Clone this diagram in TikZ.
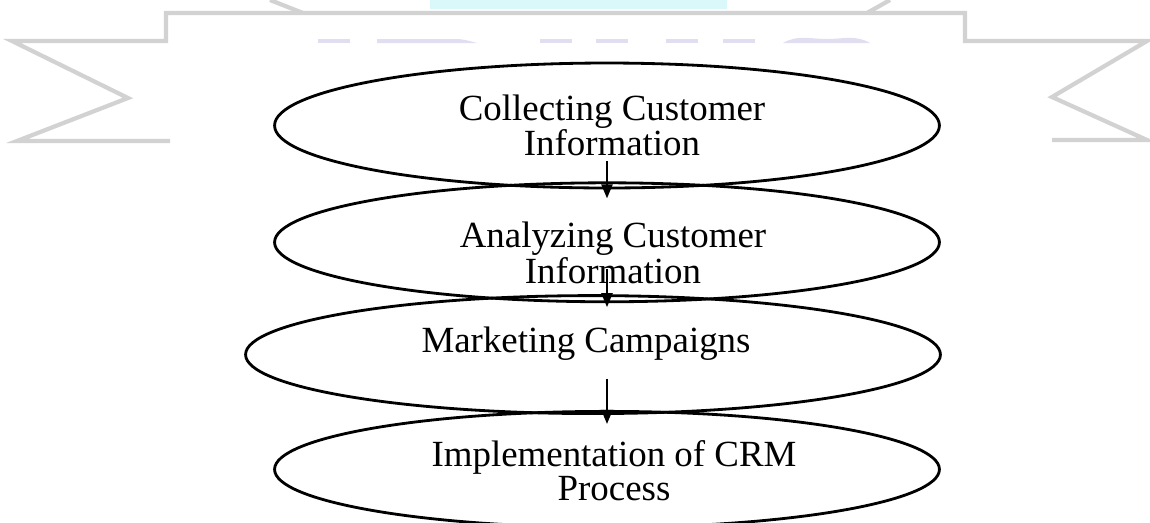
\documentclass[tikz,border=0pt]{standalone}
\usepackage{fontspec}
\setmainfont{Liberation Serif}
\usetikzlibrary{shapes.geometric,arrows.meta,positioning}

\definecolor{ribbongray}{HTML}{D2D2D2}
\definecolor{markblue}{HTML}{DAF7FA}
\definecolor{marklilac}{HTML}{E2DEF2}

\begin{document}
\begin{tikzpicture}[
    x=0.02cm, y=-0.02cm,
    >={Triangle[length=0.28cm,width=0.22cm]},
    stage/.style={ellipse, draw=black, line width=1.6pt, minimum width=13.3cm, inner sep=0pt},
    caption/.style={align=center, font=\fontsize{21}{17.8}\selectfont},
    flow/.style={->, line width=1.3pt},
    ribbon/.style={draw=ribbongray, line width=2.4pt}
]
\useasboundingbox (0,0) rectangle (1150,522);

% faint banner in the background
\fill[markblue] (430,0) rectangle (727,9);
\foreach \a/\b in {318/350,540/572,596/628,666/698,723/755}
    \fill[marklilac] (\a,39) rectangle (\b,43);
\fill[marklilac] (377,39) -- (455,39) to[out=0,in=165] (477,43) -- (377,43) -- cycle;
\fill[marklilac] (783,43) to[out=30,in=180] (827,39) to[out=0,in=150] (870,43) -- cycle;
\draw[ribbon] (170,141) -- (17,141) -- (128,98) -- (12,41) -- (166,41) -- (166,13)
    -- (965,13) -- (965,41) -- (1147,41) -- (1052,97) -- (1147,140) -- (1052,140);
\draw[ribbon] (303,13) -- (270,0);
\draw[ribbon] (867,13) -- (890,0);

% Stages
\node[stage, minimum height=2.5cm] (collect) at (607,125.5) {};
\node[stage, minimum height=2.38cm, below=-0.16cm of collect] (analyze) {};
\node[stage, minimum width=13.9cm, minimum height=2.36cm, below=-0.18cm of analyze, xshift=-0.28cm] (market) {};
\node[stage, minimum height=2.32cm, below=-0.1cm of market, xshift=0.28cm] (implement) {};

% Stage texts
\node[caption] (collect_txt) at ([xshift=0.1cm]collect.center) {Collecting Customer\\Information};
\node[caption] (analyze_txt) at ([xshift=0.12cm,yshift=-0.21cm]analyze.center) {Analyzing Customer\\Information};
\node[caption] (market_txt) at ([xshift=-0.14cm,yshift=0.22cm]market.center) {Marketing Campaigns};
\node[caption] (implement_txt) at ([xshift=0.14cm,yshift=-0.02cm]implement.center) {Implementation of CRM\\Process};

% Flow
\draw[flow] ([yshift=0.56cm]collect.south) -- ([yshift=-0.34cm]analyze.north);
\draw[flow] ([yshift=0.68cm]analyze.south) -- ([xshift=0.28cm,yshift=-0.26cm]market.north);
\draw[flow] ([xshift=0.28cm,yshift=0.72cm]market.south) -- ([yshift=-0.28cm]implement.north);

\end{tikzpicture}
\end{document}
